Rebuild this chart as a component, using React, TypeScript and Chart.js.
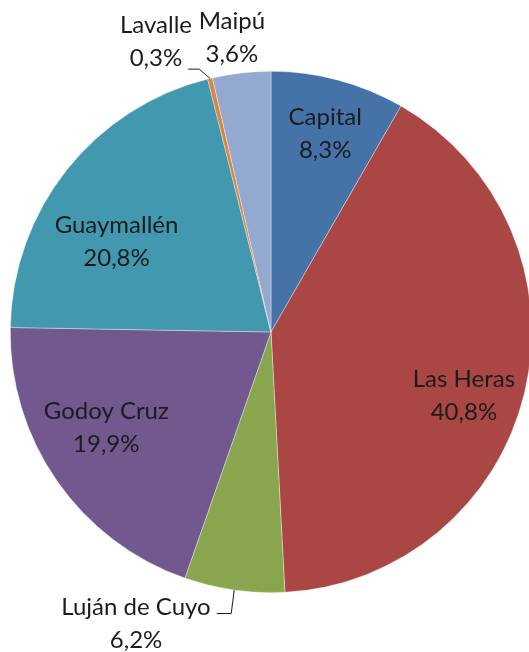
import React, { useEffect, useRef } from "react";
import { Chart, registerables } from "chart.js";

Chart.register(...registerables);

const categories = ["Capital", "Las Heras", "Luján de Cuyo", "Godoy Cruz", "Guaymallén", "Lavalle", "Maipú"];
const values = [8.3, 40.8, 6.2, 19.9, 20.8, 0.3, 3.6];
const valueLabels = ["8,3%", "40,8%", "6,2%", "19,9%", "20,8%", "0,3%", "3,6%"];
const colors = ["#4572A7", "#AA4643", "#89A54E", "#71588F", "#4198AF", "#DB843D", "#93A9CF"];

// label placement: [radius factor, angle offset in degrees, leader type]
const placement: [number, number, string][] = [
  [0.79, 0.3, ""],
  [0.78, 5, ""],
  [1.234, 16.7, "luj"],
  [0.73, 4.8, ""],
  [0.686, -8.2, ""],
  [1.198, -8.1, "lav"],
  [1.137, -1.1, ""],
];

const FONT = "24px Lato, Calibri, Carlito, sans-serif";
const LINE = 33;

const labelPlugin = {
  id: "sliceLabels",
  afterDraw(chart: any) {
    const ctx = chart.ctx;
    const meta = chart.getDatasetMeta(0);
    ctx.save();
    ctx.font = FONT;
    ctx.fillStyle = "#1c1c1c";
    ctx.textAlign = "center";
    ctx.textBaseline = "middle";
    meta.data.forEach((arc: any, i: number) => {
      const p = arc.getProps(["x", "y", "startAngle", "endAngle", "outerRadius"], true);
      const mid = (p.startAngle + p.endAngle) / 2;
      const [f, dDeg, leader] = placement[i];
      const a = mid + (dDeg * Math.PI) / 180;
      const cx = p.x + Math.cos(a) * p.outerRadius * f;
      const cy = p.y + Math.sin(a) * p.outerRadius * f;
      const y1 = cy - LINE / 2;
      const y2 = cy + LINE / 2;
      ctx.fillText(categories[i], cx, y1);
      ctx.fillText(valueLabels[i], cx, y2);
      if (leader) {
        const ax = p.x + Math.cos(mid) * p.outerRadius;
        const ay = p.y + Math.sin(mid) * p.outerRadius;
        ctx.strokeStyle = "#1c1c1c";
        ctx.lineWidth = 1;
        ctx.beginPath();
        if (leader === "luj") {
          const w = ctx.measureText(categories[i]).width;
          const ey = y1 + 6;
          const ex = cx + w / 2 + 6;
          ctx.moveTo(ax, ay);
          ctx.lineTo(ax - 3, ey);
          ctx.lineTo(ex, ey);
        } else {
          const w = ctx.measureText(valueLabels[i]).width;
          const ey = y2 + 11;
          const ex = cx + w / 2 + 6;
          ctx.moveTo(ax, ay);
          ctx.lineTo(ex + 11, ey);
          ctx.lineTo(ex, ey);
        }
        ctx.stroke();
      }
    });
    ctx.restore();
  },
};

export default function App() {
  const ref = useRef<HTMLCanvasElement>(null);
  useEffect(() => {
    if (!ref.current) return;
    const chart = new Chart(ref.current, {
      type: "pie",
      data: {
        labels: categories,
        datasets: [
          {
            data: values,
            backgroundColor: colors,
            borderColor: "rgba(255,255,255,0.6)",
            borderWidth: 0.6,
          },
        ],
      },
      options: {
        responsive: false,
        animation: false,
        layout: { padding: { left: 10, right: 8, top: 71, bottom: 59 } },
        plugins: { legend: { display: false }, tooltip: { enabled: false } },
      },
      plugins: [labelPlugin],
    });
    return () => chart.destroy();
  }, []);
  return (
    <div style={{ position: "fixed", left: 0, top: 0, width: 529, height: 652, overflow: "hidden", background: "#fff" }}>
      <canvas ref={ref} width={540} height={652} style={{ display: "block", width: 540, height: 652 }} />
    </div>
  );
}
